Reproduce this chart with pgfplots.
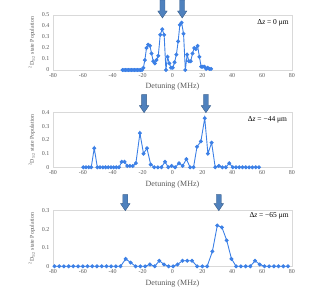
\documentclass[border=0pt]{standalone}
\usepackage{fontspec}
\setmainfont{Liberation Serif}
\usepackage{pgfplots}
\pgfplotsset{compat=1.18}
\definecolor{lineblue}{HTML}{3C80E6}
\definecolor{arrfill}{HTML}{4F81BD}
\definecolor{arredge}{HTML}{385D8A}
\definecolor{tickgray}{HTML}{595959}
\definecolor{framegray}{HTML}{D9D9D9}

\pgfplotsset{panel/.style={
  scale only axis, width=239pt, clip=false,
  xmin=-80, xmax=80, xtick={-80,-60,-40,-20,0,20,40,60,80},
  ymin=0,
  axis line style={framegray, line width=0.5pt},
  major tick length=0pt,
  tick label style={font=\fontsize{6}{7}\selectfont, text=tickgray},
  /pgf/number format/assume math mode=true,
  xlabel={Detuning (MHz)},
  xlabel style={font=\fontsize{8}{9}\selectfont, text=tickgray, yshift=1pt},
  ylabel={\textsuperscript{2}D\textsubscript{5/2} state Population},
  ylabel style={font=\fontsize{5.8}{6}\selectfont, text=tickgray},
}}
\tikzset{series/.style={lineblue, line width=0.9pt, mark=*, mark size=1.5pt, mark options={fill=lineblue, draw=lineblue}},
  blockarrow/.style={fill=arrfill, draw=arredge, line width=0.4pt}}
% down arrow: tip at (x,y) shifted by #3, shaft length #4
\newcommand{\downarr}[4]{%
  \draw[blockarrow] (axis cs:#1,#2) ++(0pt,#3) -- ++(-4.7pt,7pt) -- ++(2.2pt,0pt) -- ++(0pt,#4) -- ++(5pt,0pt) -- ++(0pt,-#4) -- ++(2.2pt,0pt) -- cycle;}

\begin{document}
\begin{tikzpicture}
\path[use as bounding box] (0pt,0pt) rectangle (314pt,303pt);

% Panel 1
\begin{axis}[panel, at={(53pt,233pt)}, anchor=south west, height=55pt,
  ymax=0.5, ytick={0,0.1,0.2,0.3,0.4,0.5}]
\addplot[series] coordinates {
(-33.4,0) (-32.4,0) (-31.4,0) (-30.4,0) (-29.4,0) (-28.4,0) (-27.4,0) (-26.4,0) (-25.4,0) (-24.4,0) (-23.4,0) (-22.4,0) (-21.4,0) (-20.4,0)
(-19.5,0.02) (-18.5,0.09) (-17.4,0.20) (-16.3,0.23) (-15.1,0.22) (-14.0,0.15) (-12.9,0.08) (-11.8,0.06) (-10.7,0.09) (-9.5,0.13)
(-8.2,0.32) (-6.9,0.37) (-5.6,0.32) (-4.4,0) (-3.3,0.12) (-2.1,0.06) (-1.0,0.02) (0.2,0.02) (1.4,0.07) (2.6,0.14)
(3.8,0.26) (4.9,0.41) (6.1,0.43) (7.4,0.33) (8.6,0) (9.8,0.14) (11.0,0.08) (12.2,0.08) (13.4,0.15) (14.5,0.20)
(15.6,0.19) (16.8,0.22) (18.0,0.12) (19.2,0.03) (20.3,0.03) (21.4,0.03) (22.5,0.01) (23.6,0.02) (24.7,0.01) (25.8,0.01)
};
\node[anchor=east, inner sep=0pt, font=\fontsize{7.5}{8}\selectfont] at (rel axis cs:0.987,0.86) {Δ\textit{z} = 0 μm};
\downarr{-6.7}{0.5}{-3pt}{11pt}
\downarr{6.5}{0.5}{-3pt}{11pt}
\end{axis}

% Panel 2
\begin{axis}[panel, at={(53pt,135.7pt)}, anchor=south west, height=54.6pt,
  ymax=0.4, ytick={0,0.1,0.2,0.3,0.4}]
\addplot[series] coordinates {
(-59.7,0) (-57.9,0) (-56.1,0) (-54.4,0) (-52.4,0.14) (-50.3,0) (-48.5,0) (-46.6,0) (-44.8,0) (-43.0,0)
(-41.2,0) (-39.4,0) (-37.6,0) (-35.8,0) (-34.0,0.04) (-32.1,0.04) (-30.3,0.01) (-28.5,0.01) (-26.6,0.01) (-24.5,0.03)
(-21.8,0.25) (-19.4,0.10) (-17.1,0.14) (-14.6,0.02) (-12.2,0) (-9.8,0) (-7.4,0) (-5.0,0.04) (-2.8,0) (-0.6,0.01)
(1.8,0) (4.4,0.03) (6.8,0.01) (9.3,0.06) (11.8,0) (14.1,0) (16.4,0.15) (19.0,0.19) (21.6,0.36) (23.7,0.10)
(26.2,0.18) (28.6,0) (31.0,0.01) (33.4,0) (35.7,0) (38.0,0.03) (40.3,0) (42.5,0) (44.7,0) (46.9,0)
(49.1,0) (51.3,0) (53.5,0) (55.7,0) (57.9,0)
};
\node[anchor=east, inner sep=0pt, font=\fontsize{7.5}{8}\selectfont] at (rel axis cs:0.98,0.87) {Δ\textit{z} = −44 μm};
\downarr{-19}{0.4}{0pt}{11pt}
\downarr{22.4}{0.4}{0pt}{11pt}
\end{axis}

% Panel 3
\begin{axis}[panel, at={(53pt,36.7pt)}, anchor=south west, height=55.6pt,
  ymax=0.3, ytick={0,0.1,0.2,0.3}]
\addplot[series] coordinates {
(-79.0,0) (-75.8,0) (-72.7,0) (-69.5,0) (-66.4,0) (-63.2,0) (-60.0,0) (-56.9,0) (-53.7,0) (-50.6,0)
(-47.4,0) (-44.2,0) (-41.1,0) (-37.9,0) (-34.8,0) (-31.3,0.04) (-28.0,0.02) (-24.7,0) (-21.5,0) (-18.3,0)
(-15.1,0.01) (-11.9,0) (-8.8,0.03) (-5.7,0.01) (-2.6,0) (0.4,0) (3.4,0.01) (6.7,0.03) (9.9,0.03) (13.1,0.03)
(16.5,0) (20.0,0) (23.2,0) (26.7,0.08) (30.0,0.22) (33.1,0.21) (36.3,0.14) (39.5,0.04) (42.6,0) (45.8,0)
(49.0,0) (52.1,0) (55.3,0.03) (58.4,0.01) (61.6,0) (64.7,0) (67.9,0) (71.0,0) (74.2,0) (77.3,0)
};
\node[anchor=east, inner sep=0pt, font=\fontsize{7.5}{8}\selectfont] at (rel axis cs:0.987,0.905) {Δ\textit{z} = −65 μm};
\downarr{-31.6}{0.3}{0pt}{9pt}
\downarr{31}{0.3}{0pt}{9pt}
\end{axis}
\end{tikzpicture}
\end{document}
